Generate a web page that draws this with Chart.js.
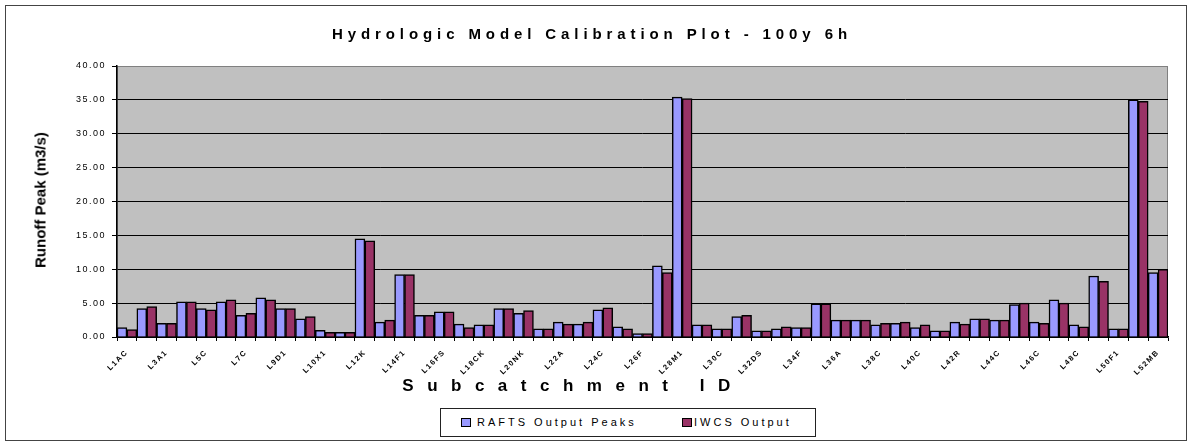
<!DOCTYPE html>
<html lang="en">
<head>
    <meta charset="UTF-8">
    <title>Hydrologic Model Calibration Plot - 100y 6h</title>
    <script src="https://cdn.jsdelivr.net/npm/chart.js"></script>
    <style>
        body {
            margin: 0;
            padding: 0;
            background: #ffffff;
            font-family: "Liberation Sans", Arial, sans-serif;
        }

        .wrap {
            position: relative;
            width: 1192px;
            height: 444px;
        }

        .frame {
            position: absolute;
            left: 5px;
            top: 5px;
            width: 1180px;
            height: 434px;
            border: 1px solid #444;
        }

        .title {
            position: absolute;
            left: 0;
            width: 1184px;
            top: 25px;
            text-align: center;
            font-size: 15px;
            font-weight: bold;
            letter-spacing: 4.9px;
            color: #000;
        }

        .y-title {
            position: absolute;
            left: 40px;
            top: 200px;
            transform: translate(-50%, -50%) rotate(-90deg);
            white-space: nowrap;
            font-size: 15px;
            font-weight: bold;
            color: #000;
        }

        .x-title {
            position: absolute;
            left: 0;
            width: 1146px;
            top: 376px;
            text-align: center;
            font-size: 17px;
            font-weight: bold;
            letter-spacing: 13.5px;
            color: #000;
        }

        .legend {
            position: absolute;
            left: 440px;
            top: 408px;
            width: 374px;
            height: 27px;
            border: 1px solid #222;
            background: #fff;
            font-size: 11px;
            letter-spacing: 3px;
            color: #000;
        }

        .legend span {
            position: absolute;
            top: 7px;
        }

        .legend i {
            position: absolute;
            top: 9px;
            width: 8px;
            height: 7px;
            border: 1px solid #000;
        }

        canvas {
            position: absolute;
            left: 0;
            top: 0;
        }
    </style>
</head>
<body>
<div class="wrap">
    <div class="frame"></div>
    <canvas id="calib" width="1192" height="444"></canvas>
    <div class="title">Hydrologic Model Calibration Plot - 100y 6h</div>
    <div class="y-title">Runoff Peak (m3/s)</div>
    <div class="x-title">Subcatchment ID</div>
    <div class="legend">
        <i style="left:20px; background:#9999ff"></i><span style="left:36px">RAFTS Output Peaks</span>
        <i style="left:241px; background:#993366"></i><span style="left:253px">IWCS Output</span>
    </div>
</div>

<script>
    // subcatchments, every other one gets a label on the axis
    const subcatchments = [
        'L1AC', 'L2A', 'L3A1', 'L4B', 'L5C', 'L6A', 'L7C', 'L8B', 'L9D1', 'L9D2',
        'L10X1', 'L11A', 'L12K', 'L13B', 'L14F1', 'L15A', 'L16FS', 'L17C', 'L18CK', 'L19A',
        'L20NK', 'L21B', 'L22A', 'L23C', 'L24C', 'L25B', 'L26F', 'L27A', 'L28M1', 'L29C',
        'L30C', 'L31A', 'L32DS', 'L33B', 'L34F', 'L35A', 'L36A', 'L37C', 'L38C', 'L39B',
        'L40C', 'L41A', 'L42R', 'L43B', 'L44C', 'L45A', 'L46C', 'L47B', 'L48C', 'L49A',
        'L50F1', 'L51B', 'L52MB'
    ];

    // peak flows (m3/s)
    const raftsPeaks = [
        1.4, 4.2, 2.0, 5.2, 4.2, 5.2, 3.2, 5.8, 4.2, 2.7,
        1.0, 0.7, 14.5, 2.2, 9.2, 3.2, 3.7, 1.9, 1.8, 4.2,
        3.5, 1.2, 2.2, 1.9, 4.0, 1.5, 0.5, 10.5, 35.4, 1.8,
        1.2, 3.0, 0.9, 1.2, 1.4, 4.9, 2.5, 2.5, 1.8, 2.0,
        1.4, 0.9, 2.2, 2.7, 2.5, 4.8, 2.2, 5.5, 1.8, 9.0,
        1.2, 35.0, 9.5
    ];
    const iwcsPeaks = [
        1.1, 4.5, 2.0, 5.2, 4.0, 5.5, 3.5, 5.5, 4.2, 3.0,
        0.7, 0.7, 14.2, 2.5, 9.2, 3.2, 3.7, 1.4, 1.8, 4.2,
        3.9, 1.2, 1.9, 2.2, 4.3, 1.2, 0.5, 9.5, 35.2, 1.8,
        1.2, 3.2, 0.9, 1.5, 1.4, 4.9, 2.5, 2.5, 2.0, 2.2,
        1.8, 0.9, 1.9, 2.7, 2.5, 5.0, 2.0, 5.0, 1.5, 8.2,
        1.2, 34.8, 10.0
    ];

    const yMin = 0;
    const yMax = 40;
    const yStep = 5;

    // grey plot area with a thin grey frame
    const plotBackground = {
        id: 'plotBackground',
        beforeDraw(chart) {
            const { ctx, chartArea: a } = chart;
            ctx.save();
            ctx.fillStyle = '#c0c0c0';
            ctx.fillRect(a.left, a.top, a.right - a.left, a.bottom - a.top);
            ctx.strokeStyle = '#808080';
            ctx.lineWidth = 1;
            ctx.strokeRect(a.left + 0.5, a.top + 0.5, a.right - a.left - 1, a.bottom - a.top);
            ctx.restore();
            ctx.letterSpacing = '1.5px';
        }
    };

    new Chart(document.getElementById('calib'), {
        type: 'bar',
        data: {
            labels: subcatchments,
            datasets: [{
                label: 'RAFTS Output Peaks',
                data: raftsPeaks,
                backgroundColor: '#9999ff',
                borderColor: '#000000',
                borderWidth: 1.5,
                categoryPercentage: 1.0,
                barPercentage: 1.0
            }, {
                label: 'IWCS Output',
                data: iwcsPeaks,
                backgroundColor: '#993366',
                borderColor: '#000000',
                borderWidth: 1.5,
                categoryPercentage: 1.0,
                barPercentage: 1.0
            }]
        },
        options: {
            responsive: false,
            animation: false,
            layout: {
                padding: { left: 0, top: 66, right: 24, bottom: 0 }
            },
            plugins: {
                legend: { display: false },
                title: { display: false },
                tooltip: { enabled: false }
            },
            scales: {
                x: {
                    afterFit(scale) { scale.height = 107; },
                    grid: {
                        offset: true,
                        drawOnChartArea: false,
                        drawTicks: true,
                        tickLength: 4,
                        tickColor: '#000'
                    },
                    border: { color: '#000', width: 1.5 },
                    ticks: {
                        autoSkip: false,
                        minRotation: 45,
                        maxRotation: 45,
                        padding: 7,
                        color: '#000',
                        font: { family: '"Liberation Sans", Arial, sans-serif', size: 7.5, weight: 'bold' },
                        callback(value, index) {
                            return index % 2 === 0 ? this.getLabelForValue(value) : '';
                        }
                    }
                },
                y: {
                    min: yMin,
                    max: yMax,
                    afterFit(scale) { scale.width = 117; },
                    grid: {
                        color: ctx => (ctx.tick && ctx.tick.value === yMax) ? '#808080' : '#000',
                        lineWidth: 1,
                        tickLength: 5,
                        tickColor: '#000'
                    },
                    border: { color: '#000', width: 1.5 },
                    ticks: {
                        stepSize: yStep,
                        padding: 6,
                        color: '#000',
                        font: { family: '"Liberation Sans", Arial, sans-serif', size: 9 },
                        callback: v => v.toFixed(2)
                    }
                }
            }
        },
        plugins: [plotBackground]
    });
</script>
</body>
</html>
